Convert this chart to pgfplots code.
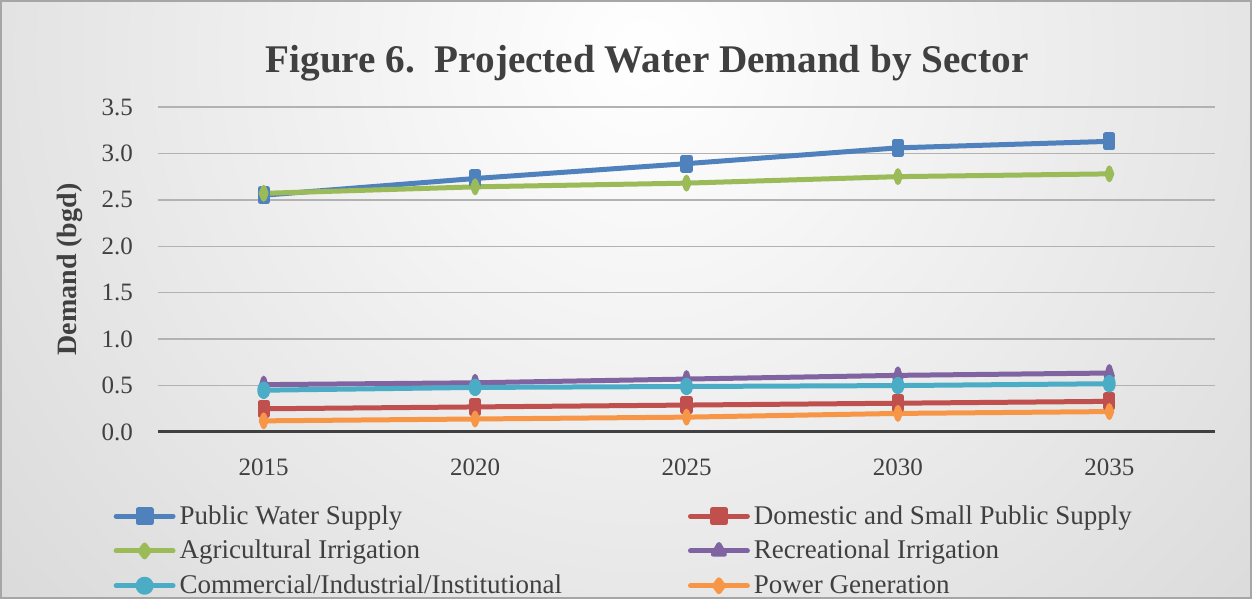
\documentclass[border=0pt]{standalone}
\usepackage{fontspec}
\setmainfont{Liberation Serif}
\usepackage{pgfplots}
\pgfplotsset{compat=1.18}
\definecolor{cBlue}{HTML}{4F81BD}
\definecolor{cRed}{HTML}{C0504D}
\definecolor{cGreen}{HTML}{9BBB59}
\definecolor{cPurple}{HTML}{8064A2}
\definecolor{cCyan}{HTML}{4BACC6}
\definecolor{cOrange}{HTML}{F79646}
\definecolor{txt}{HTML}{404040}
\begin{document}
\begin{tikzpicture}
\useasboundingbox (0,0) rectangle (626pt,299.5pt);
\begin{scope}
\clip (0,0) rectangle (626pt,299.5pt);
\shade[inner color=white, outer color=black!26] (322pt,272pt) circle (760pt);
\end{scope}
\draw[black!35, line width=0.8pt] (0.4pt,0.4pt) rectangle (625.6pt,299.1pt);
\node[font=\fontsize{19.6}{22}\selectfont\bfseries, text=txt] at (323.5pt,268pt) {Figure 6.\ \ Projected Water Demand by Sector};
\begin{axis}[
  at={(79pt,83.5pt)}, anchor=south west,
  scale only axis, width=528.5pt, height=162.5pt,
  xmin=-0.5, xmax=4.5, ymin=0, ymax=3.5,
  xtick={0,1,2,3,4}, xticklabels={2015,2020,2025,2030,2035},
  ytick={0,0.5,1,1.5,2,2.5,3,3.5},
  /pgf/number format/assume math mode=true,
  yticklabel style={/pgf/number format/fixed, /pgf/number format/fixed zerofill, /pgf/number format/precision=1, xshift=-9pt},
  ticklabel style={font=\fontsize{12.5}{14}\selectfont, text=txt},
  xticklabel style={yshift=-10pt},
  major tick length=0pt,
  axis x line*=bottom, axis y line*=left,
  y axis line style={draw=none},
  x axis line style={line width=1.5pt, color=txt},
  ymajorgrids, grid style={line width=0.75pt, color=black!30},
  ylabel={Demand (bgd)},
  ylabel style={font=\fontsize{14}{16}\selectfont\bfseries, text=txt, at={(axis description cs:-0.083,0.5)}, anchor=center},
  legend columns=2, legend cell align=left,
  legend style={at={(axis description cs:-0.0480,-0.2)}, anchor=north west, draw=none, fill=none,
    font=\fontsize{13.5}{15}\selectfont, text=txt, row sep=2.5pt,
    /tikz/every even column/.append style={column sep=61pt}},
  legend image code/.code={\draw[mark repeat=2,mark phase=2,mark options={solid}] plot coordinates {(0cm,0cm)(0.5cm,0cm)(1.0cm,0cm)};},
  every axis plot/.append style={line width=2.5pt, line cap=round, line join=round},
]
\addplot[color=cBlue, mark=square*, mark size=3.25pt, mark options={solid, xscale=0.55}] coordinates {(0,2.55)(1,2.73)(2,2.89)(3,3.06)(4,3.13)};
\addlegendentry{Public Water Supply}
\addplot[color=cRed, mark=square*, mark size=3.25pt, mark options={solid, xscale=0.55}] coordinates {(0,0.25)(1,0.27)(2,0.29)(3,0.31)(4,0.33)};
\addlegendentry{Domestic and Small Public Supply}
\addplot[color=cGreen, mark=diamond*, mark size=3pt, mark options={solid, xscale=0.55}] coordinates {(0,2.57)(1,2.64)(2,2.68)(3,2.75)(4,2.78)};
\addlegendentry{Agricultural Irrigation}
\addplot[color=cPurple, mark=triangle*, mark size=3.25pt, mark options={solid, xscale=0.55}] coordinates {(0,0.51)(1,0.53)(2,0.57)(3,0.61)(4,0.635)};
\addlegendentry{Recreational Irrigation}
\addplot[color=cCyan, mark=*, mark size=3.25pt, mark options={solid, xscale=0.6}] coordinates {(0,0.45)(1,0.48)(2,0.49)(3,0.50)(4,0.52)};
\addlegendentry{Commercial/Industrial/Institutional}
\addplot[color=cOrange, mark=diamond*, mark size=3pt, mark options={solid, xscale=0.55}] coordinates {(0,0.12)(1,0.14)(2,0.16)(3,0.20)(4,0.22)};
\addlegendentry{Power Generation}
\end{axis}
\end{tikzpicture}
\end{document}
